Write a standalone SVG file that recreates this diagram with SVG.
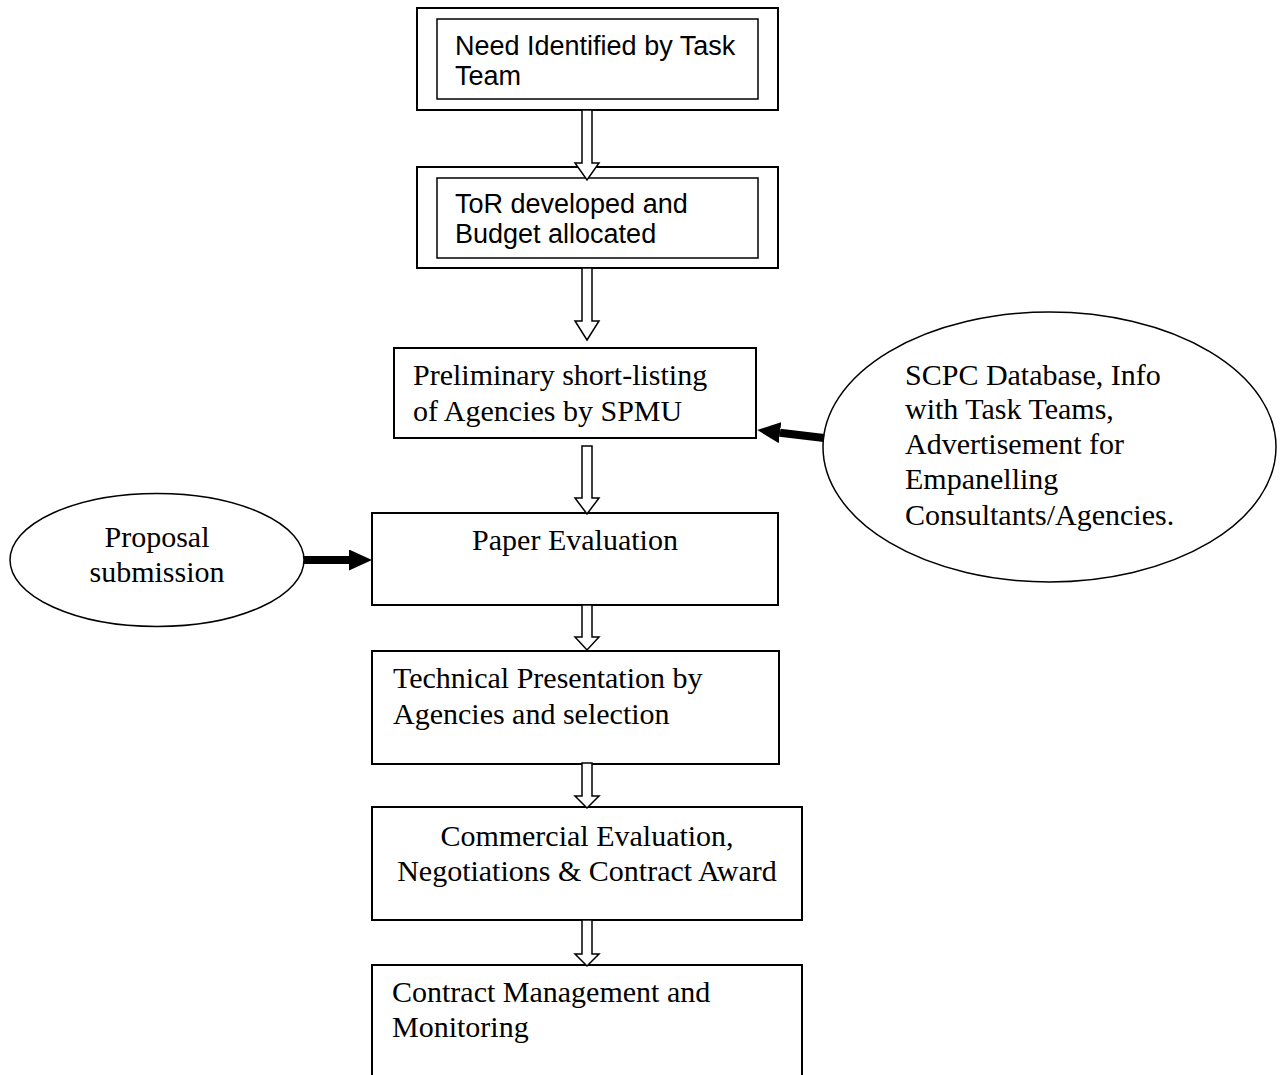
<svg xmlns="http://www.w3.org/2000/svg" width="1282" height="1075" viewBox="0 0 1282 1075">
<style>
.box{fill:#fff;stroke:#000;stroke-width:2}
.inner{fill:none;stroke:#000;stroke-width:1.5}
.ell{fill:#fff;stroke:#000;stroke-width:1.5}
.hollow{fill:#fff;stroke:#000;stroke-width:1.5;stroke-linejoin:miter}
.thick{fill:none;stroke:#000;stroke-width:8}
.sans{font-family:"Liberation Sans",Arial,sans-serif;font-size:27px;fill:#000}
.serif{font-family:"Liberation Serif","Times New Roman",serif;font-size:30px;fill:#000}
</style>
<defs>
<marker id="solidHead" viewBox="0 0 23 21" refX="0" refY="10.5" markerWidth="23" markerHeight="21" markerUnits="userSpaceOnUse" orient="auto">
<path d="M0,0 L23,10.5 L0,21 Z" fill="#000"/>
</marker>
</defs>
<rect width="1282" height="1075" fill="#fff"/>

<g id="n1">
<rect class="box" x="417" y="8" width="361" height="102"/>
<rect class="inner" x="437" y="19" width="321" height="80"/>
<text class="sans" x="455" y="55">Need Identified by Task</text>
<text class="sans" x="455" y="85">Team</text>
</g>
<g id="n2">
<rect class="box" x="417" y="167" width="361" height="101"/>
<rect class="inner" x="437" y="178" width="321" height="80"/>
<text class="sans" x="455" y="213">ToR developed and</text>
<text class="sans" x="455" y="243">Budget allocated</text>
</g>
<g id="n3">
<rect class="box" x="394" y="348" width="362" height="90"/>
<text class="serif" x="413" y="385">Preliminary short-listing</text>
<text class="serif" x="413" y="421">of Agencies by SPMU</text>
</g>
<g id="n4">
<rect class="box" x="372" y="513" width="406" height="92"/>
<text class="serif" x="575" y="550" text-anchor="middle">Paper Evaluation</text>
</g>
<g id="n5">
<rect class="box" x="372" y="651" width="407" height="113"/>
<text class="serif" x="393" y="688">Technical Presentation by</text>
<text class="serif" x="393" y="724">Agencies and selection</text>
</g>
<g id="n6">
<rect class="box" x="372" y="807" width="430" height="113"/>
<text class="serif" x="587" y="846" text-anchor="middle">Commercial Evaluation,</text>
<text class="serif" x="587" y="881" text-anchor="middle">Negotiations &amp; Contract Award</text>
</g>
<g id="n7">
<rect class="box" x="372" y="965" width="430" height="130"/>
<text class="serif" x="392" y="1002">Contract Management and</text>
<text class="serif" x="392" y="1037">Monitoring</text>
</g>
<g id="proposal">
<ellipse class="ell" cx="157" cy="560" rx="147" ry="66.5"/>
<text class="serif" x="157" y="547" text-anchor="middle">Proposal</text>
<text class="serif" x="157" y="582" text-anchor="middle">submission</text>
</g>
<g id="sources">
<ellipse class="ell" cx="1049.5" cy="447" rx="226.5" ry="135"/>
<text class="serif" x="905" y="385">SCPC Database, Info</text>
<text class="serif" x="905" y="419">with Task Teams,</text>
<text class="serif" x="905" y="454">Advertisement for</text>
<text class="serif" x="905" y="489">Empanelling</text>
<text class="serif" x="905" y="525">Consultants/Agencies.</text>
</g>

<g id="connectors">
<path class="hollow" d="M582,110 L592,110 L592,163 L599,163 L587,180 L575,163 L582,163 Z"/>
<path class="hollow" d="M582,268 L592,268 L592,321 L599,321 L587,340 L575,321 L582,321 Z"/>
<path class="hollow" d="M582,446 L592,446 L592,498 L599,498 L587,514 L575,498 L582,498 Z"/>
<path class="hollow" d="M582,605 L592,605 L592,637 L599,637 L587,650 L575,637 L582,637 Z"/>
<path class="hollow" d="M582,763 L592,763 L592,796 L599,796 L587,808 L575,796 L582,796 Z"/>
<path class="hollow" d="M582,920 L592,920 L592,954 L599,954 L587,966 L575,954 L582,954 Z"/>
<line class="thick" x1="304" y1="560" x2="349" y2="560" marker-end="url(#solidHead)"/>
<line class="thick" x1="824" y1="438" x2="780" y2="432.7" marker-end="url(#solidHead)"/>
</g>
</svg>
